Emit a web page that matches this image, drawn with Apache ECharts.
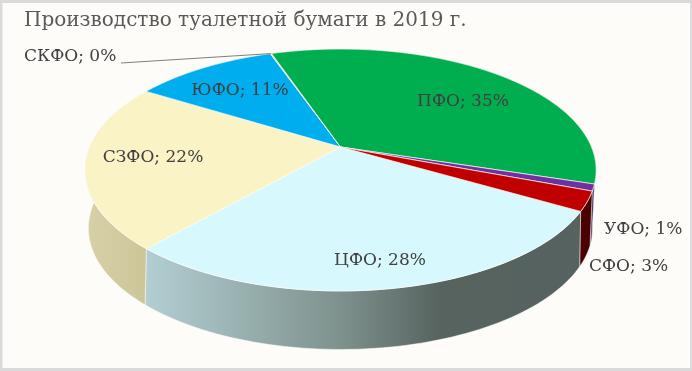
<!DOCTYPE html>
<html><head><meta charset="utf-8">
<style>html,body{margin:0;padding:0;background:#dadada}#c{width:692px;height:371px;filter:blur(0.6px)}</style>
<script src="https://cdn.jsdelivr.net/npm/echarts@6/dist/echarts.min.js"></script>
</head><body><div id="c"></div>
<script>
const titleText = 'Производство туалетной бумаги в 2019 г.';
const categories = ['ЦФО','СЗФО','ЮФО','СКФО','ПФО','УФО','СФО'];
const values = [28.3,22.3,10.9,0.1,35.2,0.9,2.6];
const topColors = ['#d7f8fc','#f9f3c5','#00aeef','#d8d0a0','#00ae4f','#7030a0','#c00000'];
const wallColors = [
  {type:'linear',x:0,y:0,x2:1,y2:0,colorStops:[{offset:0,color:'#b3cfd3'},{offset:.45,color:'#7e918d'},{offset:.68,color:'#56635f'},{offset:1,color:'#56625f'}]},
  {type:'linear',x:0,y:0,x2:1,y2:0,colorStops:[{offset:0,color:'#d8d1a8'},{offset:1,color:'#cbc497'}]},
  '#00789f','#707070','#00642c','#3b1a55','#4a0000'];
const labelPos = [[380,261,'center'],[153,158,'center'],[240,91,'center'],[24,57,'left'],[463,102,'center'],[604,230,'left'],[589,267,'left']];
const total = values.reduce((a,b)=>a+b,0);
const startDeg = 120;
const topPlane = {cx:340.5,cy:147,R:251,H:116.6,K:.19};
const botPlane = {cx:340.5,cy:201.5,R:246,H:115.4,K:.22};
function proj(pl,deg){const a=deg*Math.PI/180,u=Math.sin(a),v=-Math.cos(a),s=1/(1-pl.K*v);return [pl.cx+pl.R*u*s,pl.cy+pl.H*v*s];}
function arc(pl,d0,d1){const p=[],n=Math.max(2,Math.ceil((d1-d0)/1.5));for(let i=0;i<=n;i++)p.push(proj(pl,d0+(d1-d0)*i/n));return p;}
function span(i){let acc=0;for(let j=0;j<i;j++)acc+=values[j];return [startDeg+acc/total*360,startDeg+(acc+values[i])/total*360];}
const stroke='#fdfcf8';
const fontF='"DejaVu Serif"';
const chart=echarts.init(document.getElementById('c'),null,{renderer:'canvas'});
chart.setOption({
  animation:false,
  backgroundColor:'#dadada',
  title:{text:titleText,left:24,top:11,padding:0,textStyle:{fontFamily:fontF,fontSize:20,fontWeight:'normal',color:'#595959'}},
  graphic:[{type:'rect',z:-1,shape:{x:2.5,y:3,width:687.5,height:365},style:{fill:'#fdfcf8'}}],
  series:[
   {type:'custom',coordinateSystem:'none',z:2,silent:true,data:values.map(v=>[v]),
    renderItem:(p,api)=>{const i=p.dataIndex;const [a,b]=span(i);
      const pts=arc(topPlane,a,b).concat(arc(botPlane,a,b).reverse());
      return {type:'polygon',shape:{points:pts},style:{fill:wallColors[i],stroke:stroke,lineWidth:.5}};}},
   {type:'custom',coordinateSystem:'none',z:3,silent:true,data:values.map(v=>[v]),
    renderItem:(p,api)=>{const i=p.dataIndex;const [a,b]=span(i);
      const pts=[[topPlane.cx,topPlane.cy]].concat(arc(topPlane,a,b));
      return {type:'polygon',shape:{points:pts},style:{fill:topColors[i],stroke:stroke,lineWidth:.7}};}},
   {type:'custom',coordinateSystem:'none',z:4,silent:true,data:values.map(v=>[v]),
    renderItem:(p,api)=>{const i=p.dataIndex;const [a,b]=span(i);const lp=labelPos[i];
      const pct=Math.round(api.value(0)/total*100);
      const children=[{type:'text',style:{x:lp[0],y:lp[1],text:categories[i]+'; '+pct+'%',align:lp[2],verticalAlign:'middle',
        fontFamily:fontF,fontSize:17,fill:'#404040'}}];
      if(categories[i]==='СКФО'){const e=proj(topPlane,(a+b)/2);
        children.push({type:'polyline',shape:{points:[[121,63],e]},style:{stroke:'#7f7f7f',lineWidth:1,fill:null}});}
      return {type:'group',children};}}
  ]
});
</script></body></html>
